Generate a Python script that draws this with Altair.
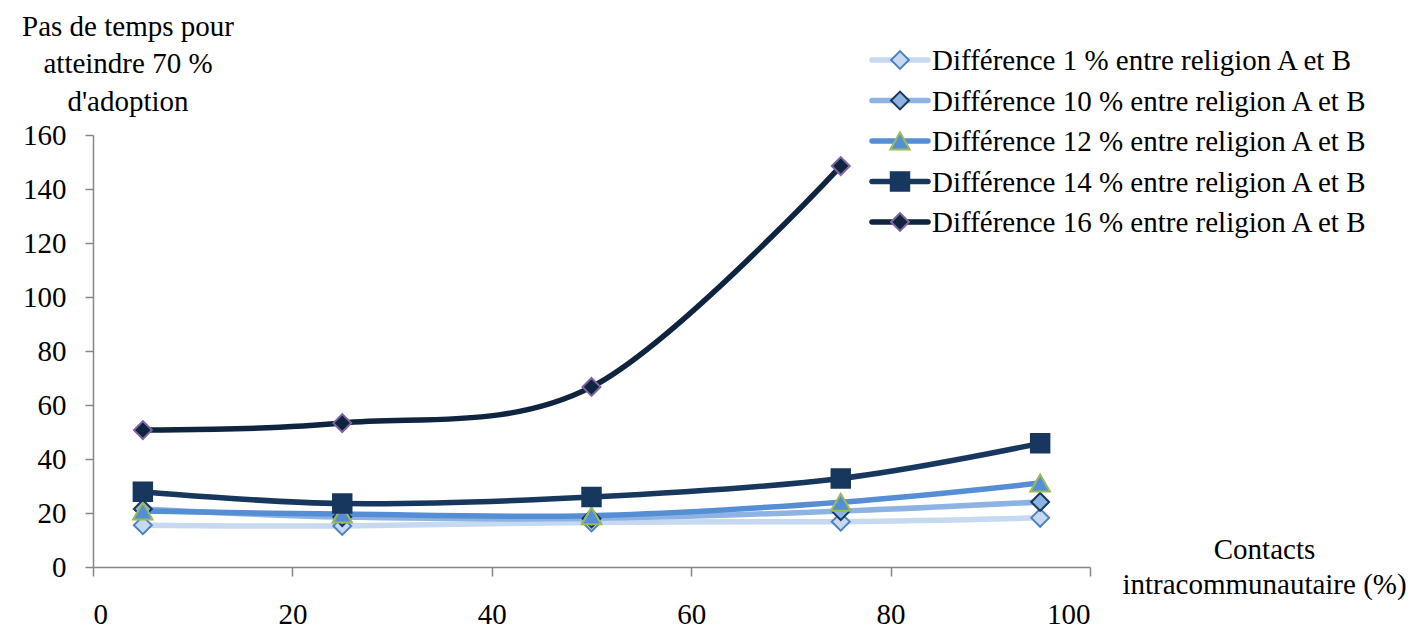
import altair as alt
import pandas as pd

# ---- data ----
contacts = [5, 25, 50, 75, 95]
series_labels = [
    "Différence 1 % entre religion A et B",
    "Différence 10 % entre religion A et B",
    "Différence 12 % entre religion A et B",
    "Différence 14 % entre religion A et B",
    "Différence 16 % entre religion A et B",
]
diff_1 = [15.5, 15.2, 16.5, 16.8, 18.2]
diff_10 = [21.5, 18.5, 18.0, 20.7, 24.1]
diff_12 = [20.7, 19.6, 19.0, 24.0, 31.1]
diff_14 = [27.9, 23.5, 25.9, 32.8, 45.8]
diff_16 = [50.7, 53.3, 66.7, 148.5, None]
x_ticks = [0, 20, 40, 60, 80, 100]
y_ticks = [0, 20, 40, 60, 80, 100, 120, 140, 160]

all_series = [diff_1, diff_10, diff_12, diff_14, diff_16]

# ---- styles ----
FONT = "Liberation Serif"
FS = 29
AXIS_GREY = "#868686"
line_colors = ["#c6d9f1", "#8db3e2", "#558ed5", "#17375e", "#0f243e"]
marker_fill = ["#c6d9f1", "#8db3e2", "#558ed5", "#17375e", "#0f243e"]
marker_stroke = ["#4f81bd", "#17375e", "#9bbb59", "#17375e", "#8064a2"]
marker_shape = ["diamond", "diamond", "triangle-up", "square", "diamond"]
marker_size = [320, 320, 380, 340, 320]
LW = 5.5

W, H = 997, 432

xscale = alt.Scale(domain=[0, 100], nice=False)
yscale = alt.Scale(domain=[0, 160], nice=False)

x_axis = alt.Axis(
    values=x_ticks, grid=False, domainColor=AXIS_GREY, domainWidth=1.5,
    tickColor=AXIS_GREY, tickWidth=1.5, tickSize=9, labelPadding=24,
    labelFont=FONT, labelFontSize=FS, labelColor="black",
    title=["Contacts", "intracommunautaire (%)"], titleFont=FONT, titleFontSize=FS,
    titleFontWeight="normal", titleColor="black", titleAngle=0, titleAlign="center",
    titleBaseline="alphabetic", titleX=1171, titleY=-9, titleLineHeight=35,
)
y_axis = alt.Axis(
    values=y_ticks, grid=False, domainColor=AXIS_GREY, domainWidth=1.5,
    tickColor=AXIS_GREY, tickWidth=1.5, tickSize=8, labelPadding=19,
    labelFont=FONT, labelFontSize=FS, labelColor="black",
    title=["Pas de temps pour", "atteindre 70 %", "d'adoption"], titleFont=FONT,
    titleFontSize=FS, titleFontWeight="normal", titleColor="black", titleAngle=0,
    titleAlign="center", titleBaseline="alphabetic", titleX=34.5, titleY=-100,
    titleLineHeight=37.5,
)

X = alt.X("x:Q", scale=xscale, axis=x_axis)
Y = alt.Y("y:Q", scale=yscale, axis=y_axis)

layers = []
for i, vals in enumerate(all_series):
    df = pd.DataFrame({"x": contacts, "y": vals}).dropna()
    layers.append(
        alt.Chart(df).mark_line(interpolate="cardinal", color=line_colors[i],
                                strokeWidth=LW, strokeCap="round").encode(x=X, y=Y)
    )
for i, vals in enumerate(all_series):
    df = pd.DataFrame({"x": contacts, "y": vals}).dropna()
    layers.append(
        alt.Chart(df).mark_point(shape=marker_shape[i], filled=True, opacity=1,
                                 fill=marker_fill[i], stroke=marker_stroke[i],
                                 strokeWidth=2, size=marker_size[i]).encode(x=X, y=Y)
    )

# ---- manual legend (pixel positions relative to plot area) ----
leg_df = pd.DataFrame({"k": [0]})
for i, lab in enumerate(series_labels):
    ly = -75 + 40.5 * i
    base = alt.Chart(leg_df)
    layers.append(base.mark_rule(color=line_colors[i], strokeWidth=LW, strokeCap="round").encode(
        x=alt.value(779), x2=alt.value(835), y=alt.value(ly)))
    layers.append(base.mark_point(shape=marker_shape[i], filled=True, opacity=1,
                                  fill=marker_fill[i], stroke=marker_stroke[i],
                                  strokeWidth=2, size=marker_size[i]).encode(
        x=alt.value(807), y=alt.value(ly)))
    layers.append(base.mark_text(text=lab, align="left", baseline="middle", font=FONT,
                                 fontSize=FS, color="black").encode(
        x=alt.value(839), y=alt.value(ly + 1)))

chart = alt.layer(*layers).properties(
    width=W, height=H, background="white",
    view=alt.ViewBackground(strokeWidth=0, stroke="transparent"),
    autosize=alt.AutoSizeParams(type="none"),
    padding={"left": 85, "top": 127, "right": 327, "bottom": 60},
).configure(font=FONT)

chart.save("out.html", embed_options={"renderer": "svg", "actions": False})
